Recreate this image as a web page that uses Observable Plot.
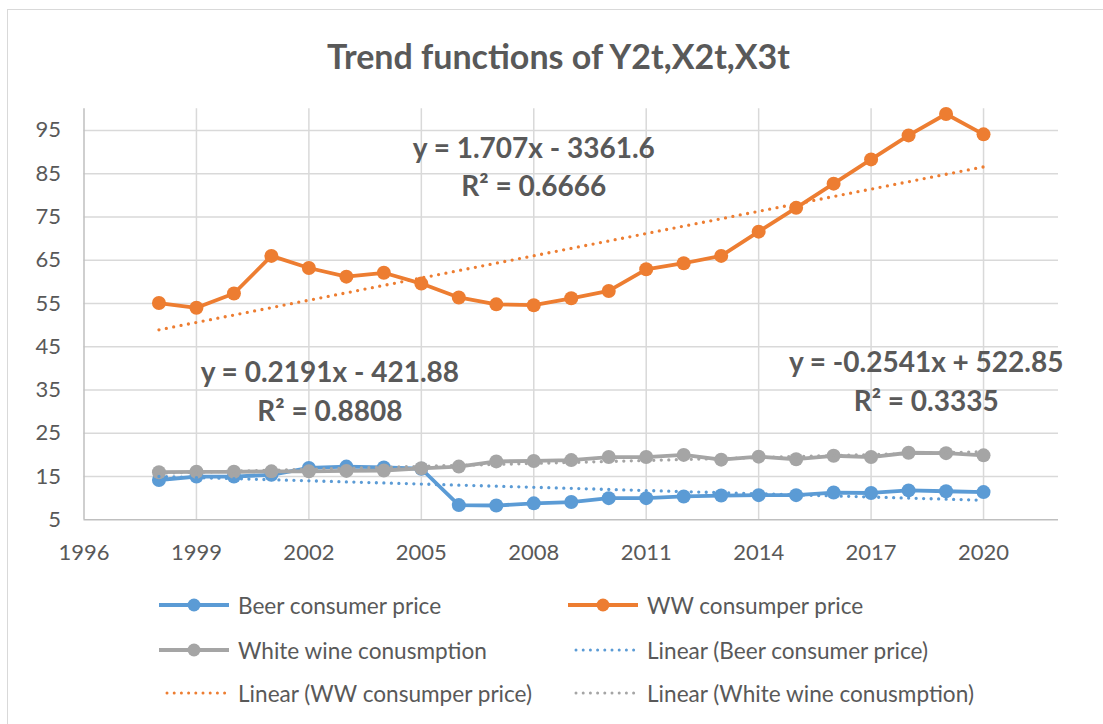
<!DOCTYPE html>
<html>
<head>
<meta charset="utf-8">
<script src="https://cdn.jsdelivr.net/npm/d3@7"></script>
<script src="https://cdn.jsdelivr.net/npm/@observablehq/plot@0.6"></script>
<style>
html, body { margin: 0; padding: 0; background: #fff; }
#chart { position: relative; width: 1103px; height: 724px; overflow: hidden; font-family: Lato, "Noto Sans", sans-serif; color: #595959; background: #fff; }
#frame { position: absolute; left: 7px; top: 9px; right: -10px; bottom: -10px; border-top: 1.5px solid #D9D9D9; border-left: 1.5px solid #D9D9D9; }
#title { position: absolute; left: 0; width: 1117px; top: 39px; text-align: center; font-weight: 700; font-size: 34px; line-height: 34px; }
#plot { position: absolute; left: 0; top: 90px; }
.leg { position: absolute; height: 26px; display: flex; align-items: center; font-size: 22.6px; white-space: nowrap; }
.leg svg { margin-right: 9px; }
</style>
</head>
<body>
<div id="chart">
  <div id="frame"></div>
  <div id="title"></div>
  <div id="plot"></div>
  <div id="legend"></div>
</div>
<script>
// ---------- data ----------
const chartTitle = "Trend functions of Y2t,X2t,X3t";
const years = [1998, 1999, 2000, 2001, 2002, 2003, 2004, 2005, 2006, 2007, 2008, 2009,
               2010, 2011, 2012, 2013, 2014, 2015, 2016, 2017, 2018, 2019, 2020];
const beerPrice = [14.2, 15.0, 15.0, 15.4, 17.0, 17.3, 17.1, 16.8, 8.4, 8.3, 8.8, 9.1,
                   10.0, 10.0, 10.4, 10.6, 10.7, 10.7, 11.3, 11.2, 11.8, 11.6, 11.4];
const wwPrice = [55.1, 54.0, 57.3, 66.0, 63.2, 61.2, 62.1, 59.6, 56.4, 54.8, 54.6, 56.2,
                 57.9, 62.9, 64.3, 66.0, 71.6, 77.1, 82.7, 88.3, 93.85, 98.8, 94.1];
const whiteWine = [16.0, 16.1, 16.1, 16.2, 16.2, 16.3, 16.4, 16.9, 17.3, 18.5, 18.6, 18.8,
                   19.5, 19.5, 20.0, 18.9, 19.6, 19.0, 19.8, 19.5, 20.5, 20.4, 19.9];
const seriesNames = ["Beer consumer price", "WW consumper price", "White wine conusmption"];
const trendNames = ["Linear (Beer consumer price)", "Linear (WW consumper price)", "Linear (White wine conusmption)"];
const equationLabels = ["y = 1.707x - 3361.6", "y = 0.2191x - 421.88", "y = -0.2541x + 522.85"];
const r2Labels = ["R² = 0.6666", "R² = 0.8808", "R² = 0.3335"];
const xTicks = [1996, 1999, 2002, 2005, 2008, 2011, 2014, 2017, 2020];
const yTicks = [5, 15, 25, 35, 45, 55, 65, 75, 85, 95];

// ---------- styles / layout ----------
const colors = ["#5B9BD5", "#ED7D31", "#A5A5A5"];
const textColor = "#595959";
const seriesValues = [beerPrice, wwPrice, whiteWine];
const series = seriesValues.map((vals, k) => years.map((yr, i) => ({year: yr, value: vals[i], k})));
// label anchors (data coordinates) for the equation text
const labelX = [2008.0, 2002.56, 2018.47];
const eqY = [88.6, 36.76, 39.06];
const r2Y = [79.85, 27.9, 30.06];

document.getElementById("title").textContent = chartTitle;

const marks = [
  Plot.gridY(yTicks.filter(v => v > 5), {stroke: "#D9D9D9", strokeOpacity: 1, strokeWidth: 1.5}),
  Plot.gridX(xTicks.filter(v => v > 1996), {stroke: "#D9D9D9", strokeOpacity: 1, strokeWidth: 1.5}),
  Plot.ruleY([5], {stroke: "#BFBFBF", strokeWidth: 1.5}),
  Plot.ruleX([1996], {stroke: "#BFBFBF", strokeWidth: 1.5}),
  Plot.axisY(yTicks, {tickSize: 0, tickPadding: 23, fontSize: 22, color: textColor, label: null}),
  Plot.axisX(xTicks, {tickSize: 0, tickPadding: 25, fontSize: 22, color: textColor, label: null, tickFormat: d => String(d)})
];
series.forEach((data, k) => {
  marks.push(Plot.line(data, {x: "year", y: "value", stroke: colors[k], strokeWidth: 3.8, strokeLinejoin: "round"}));
  marks.push(Plot.dot(data, {x: "year", y: "value", r: 7, fill: colors[k]}));
});
series.forEach((data, k) => {
  marks.push(Plot.linearRegressionY(data, {x: "year", y: "value", ci: 0, stroke: colors[k], strokeWidth: 3.3,
    strokeDasharray: "0 7.5", strokeLinecap: "round"}));
});
marks.push(Plot.text(equationLabels, {x: (d, i) => labelX[i], y: (d, i) => eqY[i], text: d => d,
  fontSize: 28, fontWeight: 700, fill: textColor, textAnchor: "middle", lineAnchor: "bottom"}));
marks.push(Plot.text(r2Labels, {x: (d, i) => labelX[i], y: (d, i) => r2Y[i], text: d => d,
  fontSize: 28, fontWeight: 700, fill: textColor, textAnchor: "middle", lineAnchor: "bottom"}));

const chart = Plot.plot({
  width: 1103,
  height: 470,
  marginLeft: 83.5,
  marginRight: 45,
  marginTop: 18.3,
  marginBottom: 40.7,
  x: {domain: [1996, 2022]},
  y: {domain: [5, 100]},
  style: {fontFamily: "Lato, 'Noto Sans', sans-serif", color: textColor, background: "transparent", overflow: "visible"},
  marks
});
document.getElementById("plot").appendChild(chart);

// ---------- legend ----------
const legend = document.getElementById("legend");
const legendItems = [
  {label: seriesNames[0], color: colors[0], dotted: false},
  {label: seriesNames[1], color: colors[1], dotted: false},
  {label: seriesNames[2], color: colors[2], dotted: false},
  {label: trendNames[0], color: colors[0], dotted: true},
  {label: trendNames[1], color: colors[1], dotted: true},
  {label: trendNames[2], color: colors[2], dotted: true}
];
const colLeft = [159, 568];
const rowCenter = [605, 650, 693];
legendItems.forEach((it, i) => {
  const div = document.createElement("div");
  div.className = "leg";
  div.style.left = colLeft[i % 2] + "px";
  div.style.top = (rowCenter[Math.floor(i / 2)] - 13) + "px";
  const ns = "http://www.w3.org/2000/svg";
  const svg = document.createElementNS(ns, "svg");
  svg.setAttribute("width", 70); svg.setAttribute("height", 16);
  const line = document.createElementNS(ns, "line");
  line.setAttribute("y1", 8); line.setAttribute("y2", 8);
  line.setAttribute("stroke", it.color);
  if (it.dotted) {
    line.setAttribute("x1", 8); line.setAttribute("x2", 66);
    line.setAttribute("stroke-width", 3);
    line.setAttribute("stroke-dasharray", "0 7.2");
    line.setAttribute("stroke-linecap", "round");
  } else {
    line.setAttribute("x1", 0); line.setAttribute("x2", 70);
    line.setAttribute("stroke-width", 3.8);
  }
  svg.appendChild(line);
  if (!it.dotted) {
    const c = document.createElementNS(ns, "circle");
    c.setAttribute("cx", 35); c.setAttribute("cy", 8); c.setAttribute("r", 6.5); c.setAttribute("fill", it.color);
    svg.appendChild(c);
  }
  div.appendChild(svg);
  const span = document.createElement("span");
  span.textContent = it.label;
  div.appendChild(span);
  legend.appendChild(div);
});
</script>
</body>
</html>
